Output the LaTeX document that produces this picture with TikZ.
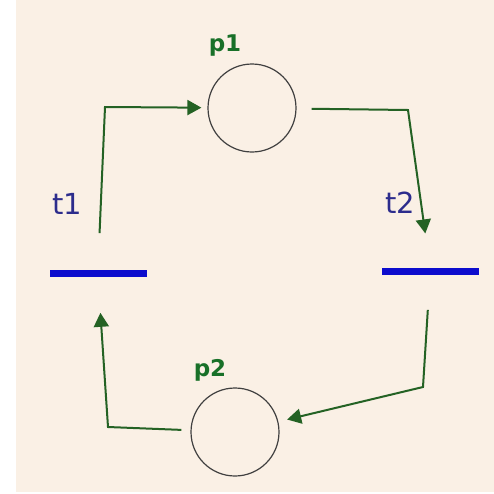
\documentclass[tikz,border=0pt]{standalone}
\usepackage{fontspec}
\setsansfont{DejaVu Sans}
\usetikzlibrary{arrows.meta}

\definecolor{netbg}{RGB}{250,240,229}
\definecolor{arcgreen}{RGB}{36,98,36}
\definecolor{placegreen}{RGB}{24,112,40}
\definecolor{transblue}{RGB}{12,12,205}
\definecolor{transtext}{RGB}{44,44,140}

\begin{document}
\begin{tikzpicture}[x=0.5pt, y=-0.5pt,
        place/.style={circle, draw=black!75, line width=0.6pt, inner sep=0pt,
                      minimum size=44pt},
        trans/.style={rectangle, fill=transblue, inner sep=0pt,
                      minimum width=48.5pt, minimum height=3.5pt},
        plabel/.style={font=\sffamily\bfseries\fontsize{11.5}{13}\selectfont,
                       text=placegreen},
        tlabel/.style={font=\sffamily\fontsize{14.5}{16}\selectfont,
                       text=transtext},
        arc/.style={draw=arcgreen, line width=1pt,
                    -{Triangle[length=7pt, width=7.5pt]}, fill=none}]
    \useasboundingbox (0,0) rectangle (494,494);
    \fill[white] (0,0) rectangle (494,494);
    \fill[netbg] (16,0) rectangle (494,492);

    % places and transitions
    \node[place] (p1) at (252,108) {};
    \node[place] (p2) at (235,432) {};
    \node[trans] (t1) at (98,273) {};
    \node[trans] (t2) at (430,271) {};

    \node[plabel] (lp1) at (225,46) {p1};
    \node[plabel] (lp2) at (210,370) {p2};
    \node[tlabel] (lt1) at (67,204) {t1};
    \node[tlabel] (lt2) at (400,203) {t2};

    % bends of the arcs
    \coordinate (c1) at (105,107);
    \coordinate (c2) at (408,110);
    \coordinate (c3) at (423,387);
    \coordinate (c4) at (108,427);

    \draw[arc, shorten <=18pt, shorten >=3pt] (t1.north) -- (c1) -- (p1);
    \draw[arc, shorten <=7.5pt, shorten >=17pt] (p1) -- (c2) -- (t2.north);
    \draw[arc, shorten <=17.5pt, shorten >=4.5pt] (t2.south) -- (c3) -- (p2);
    \draw[arc, shorten <=4.5pt, shorten >=18pt] (p2) -- (c4) -- (t1.south);
\end{tikzpicture}
\end{document}
